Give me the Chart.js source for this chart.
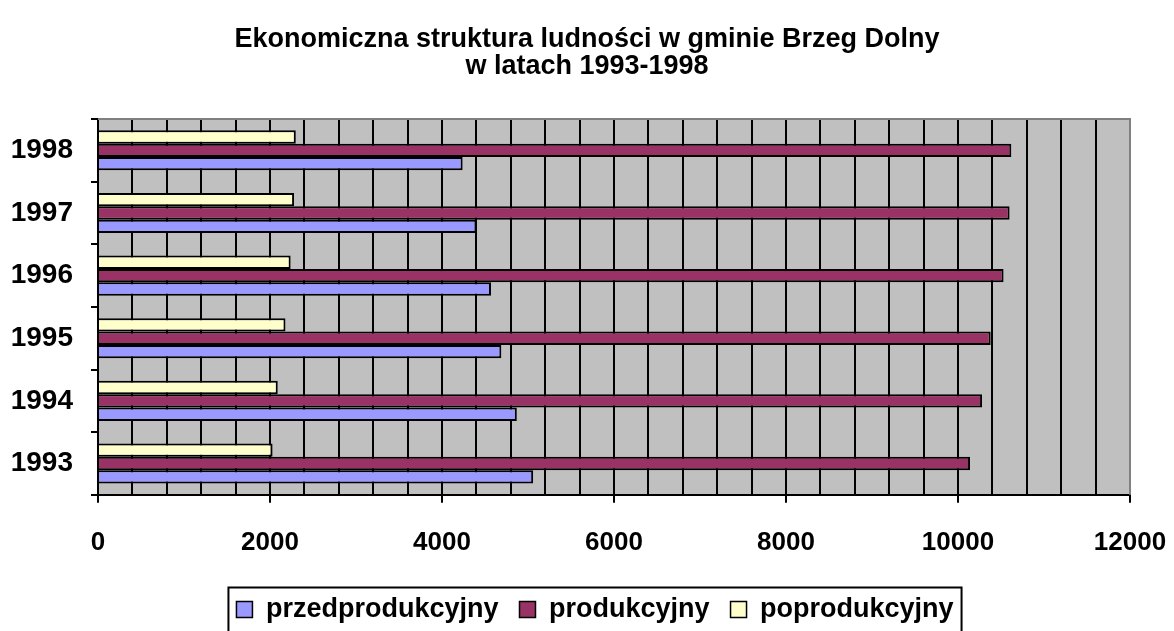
<!DOCTYPE html>
<html>
<head>
<meta charset="utf-8">
<script src="https://cdn.jsdelivr.net/npm/chart.js@4"></script>
<style>
  html, body { margin: 0; padding: 0; background: #ffffff; }
  #wrap { width: 1174px; height: 631px; }
</style>
</head>
<body>
<div id="wrap"><canvas id="struktura"></canvas></div>
<script>
// Dane
const years = ["1993", "1994", "1995", "1996", "1997", "1998"];
const przedprodukcyjny = [5060, 4870, 4690, 4570, 4400, 4240];
const produkcyjny = [10140, 10280, 10380, 10530, 10600, 10620];
const poprodukcyjny = [2030, 2090, 2180, 2240, 2280, 2300];
const xTicks = [0, 2000, 4000, 6000, 8000, 10000, 12000];

const fontFamily = "'Liberation Sans', Arial, sans-serif";

// gray plot area + border round it, frame round the legend
const plotArea = {
  id: "plotArea",
  afterLayout(chart) {
    // legend sits a bit right of centre in the original
    chart.legend.left += 8;
    chart.legend.right += 8;
  },
  beforeDraw(chart) {
    const { ctx, chartArea: a } = chart;
    ctx.save();
    ctx.fillStyle = "#c0c0c0";
    ctx.fillRect(a.left, a.top, a.right - a.left, a.bottom - a.top);
    ctx.restore();
  },
  afterDraw(chart) {
    const { ctx, chartArea: a } = chart;
    ctx.save();
    ctx.strokeStyle = "#808080";
    ctx.lineWidth = 2;
    ctx.beginPath();
    ctx.moveTo(a.left, a.top);
    ctx.lineTo(a.right, a.top);
    ctx.lineTo(a.right, a.bottom);
    ctx.stroke();
    const boxes = chart.legend.legendHitBoxes;
    if (boxes && boxes.length) {
      const left = Math.min(...boxes.map(b => b.left)) - 8;
      const right = Math.max(...boxes.map(b => b.left + b.width)) + 8;
      const top = boxes[0].top + boxes[0].height / 2 - 22;
      ctx.strokeStyle = "#000000";
      ctx.lineWidth = 2;
      ctx.strokeRect(left, top, right - left, 60);
    }
    ctx.restore();
  },
};

const ctx = document.getElementById("struktura").getContext("2d");

// dataset order top -> bottom inside each year group
new Chart(ctx, {
  type: "bar",
  data: {
    labels: years,
    datasets: [
      {
        label: "poprodukcyjny",
        data: poprodukcyjny,
        backgroundColor: "#ffffcc",
        borderColor: "#000000",
        borderWidth: 2,
      },
      {
        label: "produkcyjny",
        data: produkcyjny,
        backgroundColor: "#993366",
        borderColor: "#000000",
        borderWidth: 2,
      },
      {
        label: "przedprodukcyjny",
        data: przedprodukcyjny,
        backgroundColor: "#9999ff",
        borderColor: "#000000",
        borderWidth: 2,
      },
    ],
  },
  options: {
    indexAxis: "y",
    responsive: true,
    maintainAspectRatio: false,
    animation: false,
    layout: { padding: { left: 10, right: 10, top: 0, bottom: -2 } },
    datasets: {
      bar: { barPercentage: 1, categoryPercentage: 0.64 },
    },
    scales: {
      x: {
        min: 0,
        max: 12000,
        afterFit: (scale) => {
          scale.height -= 7;
          scale.paddingLeft = 0;
          scale.paddingRight = 44;
        },
        ticks: {
          stepSize: 400,
          autoSkip: false,
          maxRotation: 0,
          color: "#000000",
          font: { family: fontFamily, size: 26, weight: "bold" },
          padding: 24,
          callback: (v) => (xTicks.includes(v) ? String(v) : ""),
        },
        grid: {
          color: "#000000",
          lineWidth: 2,
          tickLength: 8,
          tickColor: (c) => (c.tick && xTicks.includes(c.tick.value) ? "#000000" : "rgba(0,0,0,0)"),
        },
        border: { color: "#000000", width: 2 },
      },
      y: {
        reverse: true,
        afterFit: (scale) => {
          scale.width = 88;
        },
        ticks: {
          color: "#000000",
          font: { family: fontFamily, size: 28, weight: "bold" },
          padding: 18,
        },
        grid: {
          offset: true,
          drawOnChartArea: false,
          color: "#000000",
          lineWidth: 2,
          tickLength: 7,
        },
        border: { color: "#000000", width: 2 },
      },
    },
    plugins: {
      title: {
        display: true,
        text: ["Ekonomiczna struktura ludności w gminie Brzeg Dolny", "w latach 1993-1998"],
        color: "#000000",
        font: { family: fontFamily, size: 27, weight: "bold", lineHeight: 1.0 },
        padding: { top: 26, bottom: 39 },
      },
      legend: {
        position: "bottom",
        labels: {
          color: "#000000",
          font: { family: fontFamily, size: 27, weight: "bold" },
          boxWidth: 16,
          boxHeight: 16,
          padding: 21,
          // legend lists the series bottom -> top
          generateLabels: (chart) =>
            chart.data.datasets
              .map((ds, i) => ({
                text: ds.label,
                fillStyle: ds.backgroundColor,
                strokeStyle: "#000000",
                lineWidth: 1.5,
                fontColor: "#000000",
                datasetIndex: i,
                hidden: false,
              }))
              .reverse(),
        },
      },
      tooltip: { enabled: false },
    },
  },
  plugins: [plotArea],
});
</script>
</body>
</html>
